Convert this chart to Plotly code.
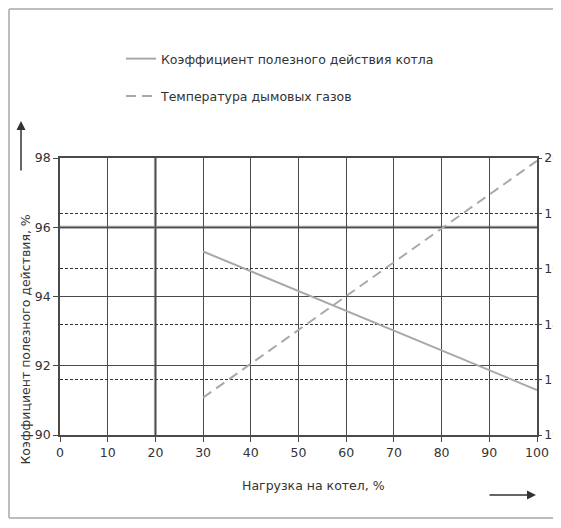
import plotly.graph_objects as go

# ---- data ----
load_pct = [30, 100]
efficiency = [95.3, 91.3]
flue_temp = [113.5, 199.0]

x_ticks = list(range(0, 101, 10))
y_left_range = [90, 98]
y_right_range = [100, 200]

name_eff = "Коэффициент полезного действия котла"
name_temp = "Температура дымовых газов"
x_title = "Нагрузка на котел, %"
y_title = "Коэффициент полезного действия, %"

# ---- geometry helpers (reference pixel -> paper) ----
# the page body has an 8px default margin, so the figure is drawn 8px in
OFF = 8
W, H = 561 - 2 * OFF, 528 - 2 * OFF
L, R, T, B = 60 - OFF, 24 - OFF, 158 - OFF, 93 - OFF
PW, PH = W - L - R, H - T - B


def px(x):
    return (x - OFF - L) / PW


def py(y):
    return (T + PH - (y - OFF)) / PH


FONT = "DejaVu Sans"
GRID = "#4a4a4a"
SERIES = "#a8a8a8"
FRAME = "#bdbdbd"

fig = go.Figure()
fig.add_trace(go.Scatter(
    x=load_pct, y=efficiency, mode="lines", name=name_eff,
    line=dict(color=SERIES, width=2), legendgroup="a",
))
fig.add_trace(go.Scatter(
    x=load_pct, y=flue_temp, mode="lines", name=name_temp, yaxis="y2",
    line=dict(color=SERIES, width=2, dash="10px,6px"), legendgroup="b",
))

fig.update_layout(
    width=W, height=H,
    margin=dict(l=L, r=R, t=T, b=B, autoexpand=False),
    paper_bgcolor="white", plot_bgcolor="white",
    font=dict(family=FONT, size=12, color="#333"),
    showlegend=True,
    legend=dict(
        x=px(121), y=py(44), xanchor="left", yanchor="top",
        bgcolor="rgba(0,0,0,0)", font=dict(size=12.5, color="#333"),
        tracegroupgap=18, itemwidth=30,
    ),
    xaxis=dict(
        range=[0, 100], tickvals=x_ticks, showgrid=True, gridcolor=GRID, gridwidth=1.3,
        zeroline=False, showline=True, linecolor=GRID, linewidth=1.5,
        ticks="outside", ticklen=5, tickcolor=GRID, tickfont=dict(size=12.5),
        mirror=True, automargin=False,
    ),
    yaxis=dict(
        range=y_left_range, dtick=2, showgrid=True, gridcolor=GRID, gridwidth=1.3,
        zeroline=False, showline=True, linecolor=GRID, linewidth=1.5,
        ticks="outside", ticklen=5, tickcolor=GRID, tickfont=dict(size=12.5),
        automargin=False,
    ),
    yaxis2=dict(
        range=y_right_range, dtick=20, overlaying="y", side="right",
        showgrid=True, gridcolor="#333", gridwidth=1.3, griddash="3px,2px",
        zeroline=False, showline=True, linecolor=GRID, linewidth=1.5,
        ticks="outside", ticklen=3, tickcolor=GRID, tickfont=dict(size=12.5),
        automargin=False,
    ),
)

# emphasised grid lines (thick light grey)
fig.add_shape(type="line", xref="x", yref="paper", x0=20, x1=20, y0=0, y1=1,
              line=dict(color="#9a9a9a", width=3), layer="below")
fig.add_shape(type="line", xref="paper", yref="y", x0=0, x1=1, y0=96, y1=96,
              line=dict(color="#9a9a9a", width=3), layer="below")

# outer frame (left, top and bottom edges; right edge runs off the picture)
for x0, y0, x1, y1 in [
    (OFF + 1, OFF + 1, OFF + 1, 518),
    (OFF + 1, OFF + 1, 560, OFF + 1),
    (OFF + 1, 518, 560, 518),
]:
    fig.add_shape(type="line", xref="paper", yref="paper",
                  x0=px(x0), x1=px(x1), y0=py(y0), y1=py(y1),
                  line=dict(color=FRAME, width=2))

# axis titles as annotations
fig.add_annotation(xref="paper", yref="paper", x=px(387), y=py(495),
                   text=x_title, showarrow=False, font=dict(size=12.5, color="#333"))
fig.add_annotation(xref="paper", yref="paper", x=px(15), y=py(340),
                   text=y_title, textangle=-90, showarrow=False,
                   font=dict(size=12.5, color="#333"))

# direction arrows
fig.add_annotation(xref="paper", yref="paper", x=px(536), y=py(495),
                   ax=-48, ay=0, axref="pixel", ayref="pixel",
                   text="", showarrow=True, arrowhead=2, arrowsize=1.2,
                   arrowwidth=1.5, arrowcolor="#333")
fig.add_annotation(xref="paper", yref="paper", x=px(21), y=py(121),
                   ax=0, ay=51, axref="pixel", ayref="pixel",
                   text="", showarrow=True, arrowhead=2, arrowsize=1.2,
                   arrowwidth=1.5, arrowcolor="#333")

fig.write_html("out.html")
